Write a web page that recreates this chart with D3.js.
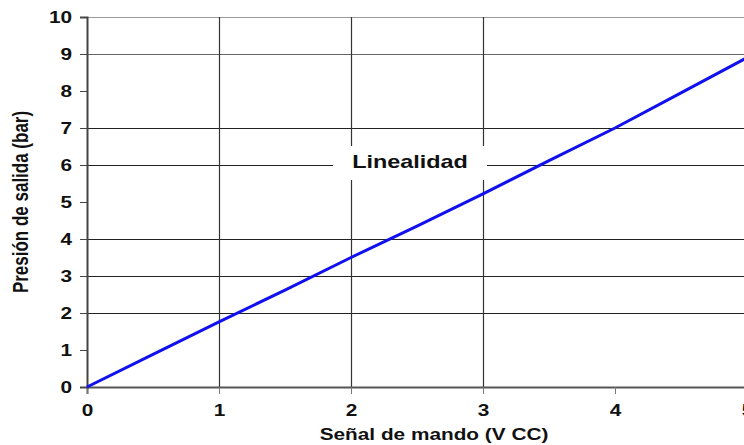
<!DOCTYPE html>
<html>
<head>
<meta charset="utf-8">
<script src="https://cdn.jsdelivr.net/npm/d3@7"></script>
<style>
  html, body { margin: 0; padding: 0; background: #fff; }
  svg { display: block; font-family: "Liberation Sans", Arial, sans-serif; }
</style>
</head>
<body>
<svg id="chart" width="744" height="445"></svg>
<script>
// señal de mando (V CC) vs presión de salida (bar)
const signal = [0, 0.5, 1, 1.5, 2, 2.5, 3, 3.5, 4, 4.5, 5];
const pressure = [0, 0.88, 1.76, 2.62, 3.5, 4.35, 5.22, 6.12, 7.0, 7.95, 8.9];
const xTicks = [0, 1, 2, 3, 4, 5];
const yTicks = [0, 1, 2, 3, 4, 5, 6, 7, 8, 9, 10];
// grid lines that show up in the picture
const xGrid = [1, 2, 3];
const yGrid = [2, 3, 4, 6, 7, 9, 10];

const svg = d3.select('#chart');
const width = 744, height = 445;
const margin = { top: 17, right: -3, bottom: 58, left: 87 };
const stretch = 1.3; // the picture's text is wider than normal

const x = d3.scaleLinear().domain([0, 5]).range([margin.left, width - margin.right]);
const y = d3.scaleLinear().domain([0, 10]).range([height - margin.bottom, margin.top]);

// grid
svg.append('g')
    .selectAll('line')
    .data(yGrid)
    .join('line')
    .attr('x1', x(0)).attr('x2', width)
    .attr('y1', d => Math.round(y(d)) + 0.5).attr('y2', d => Math.round(y(d)) + 0.5)
    .attr('stroke', d => d === 10 ? '#999' : (d === 9 ? '#666' : '#222'))
    .attr('stroke-width', 1.2);

svg.append('g')
    .selectAll('line')
    .data(xGrid)
    .join('line')
    .attr('x1', d => Math.round(x(d)) + 0.5).attr('x2', d => Math.round(x(d)) + 0.5)
    .attr('y1', y(10)).attr('y2', y(0))
    .attr('stroke', '#333')
    .attr('stroke-width', 1.2);

// axes
svg.append('g')
    .attr('transform', `translate(0,${y(0)})`)
    .call(d3.axisBottom(x).tickValues(xTicks).tickFormat(d3.format('d')).tickSize(7).tickPadding(11))
    .call(g => g.select('.domain').attr('stroke', '#555').attr('stroke-width', 2))
    .call(g => g.selectAll('line').attr('stroke', '#777'))
    .call(g => g.selectAll('text')
        .attr('font-size', 16).attr('font-weight', 'bold').attr('fill', '#111')
        .attr('font-family', null).attr('transform', `scale(${stretch},1)`));

svg.append('g')
    .attr('transform', `translate(${x(0)},0)`)
    .call(d3.axisLeft(y).tickValues(yTicks).tickFormat(d3.format('d')).tickSize(7).tickPadding(4.5))
    .call(g => g.select('.domain').attr('stroke', '#444').attr('stroke-width', 2))
    .call(g => g.selectAll('line').attr('stroke', '#444'))
    .call(g => g.selectAll('text')
        .attr('font-size', 16).attr('font-weight', 'bold').attr('fill', '#111')
        .attr('font-family', null).attr('transform', `scale(${stretch},1)`));

// label box
const lx = 410, ly = y(6);
svg.append('rect')
    .attr('x', lx - 77).attr('y', ly - 19)
    .attr('width', 154).attr('height', 34)
    .attr('fill', '#fff');
svg.append('text')
    .attr('transform', `translate(${lx},${ly + 3}) scale(${stretch},1)`)
    .attr('text-anchor', 'middle')
    .attr('font-size', 18).attr('font-weight', 'bold').attr('fill', '#111')
    .text('Linealidad');

// curve
const line = d3.line()
    .x((d, i) => x(signal[i]))
    .y(d => y(d));

svg.append('path')
    .datum(pressure)
    .attr('fill', 'none')
    .attr('stroke', '#1010f0')
    .attr('stroke-width', 3)
    .attr('d', line);

// axis titles
svg.append('text')
    .attr('transform', `translate(434,440) scale(${stretch},1)`)
    .attr('text-anchor', 'middle')
    .attr('font-size', 16).attr('font-weight', 'bold').attr('fill', '#111')
    .text('Señal de mando (V CC)');

svg.append('text')
    .attr('transform', `translate(28,202) rotate(-90) scale(1,${stretch})`)
    .attr('text-anchor', 'middle')
    .attr('font-size', 17).attr('font-weight', 'bold').attr('fill', '#111')
    .text('Presión de salida (bar)');
</script>
</body>
</html>
